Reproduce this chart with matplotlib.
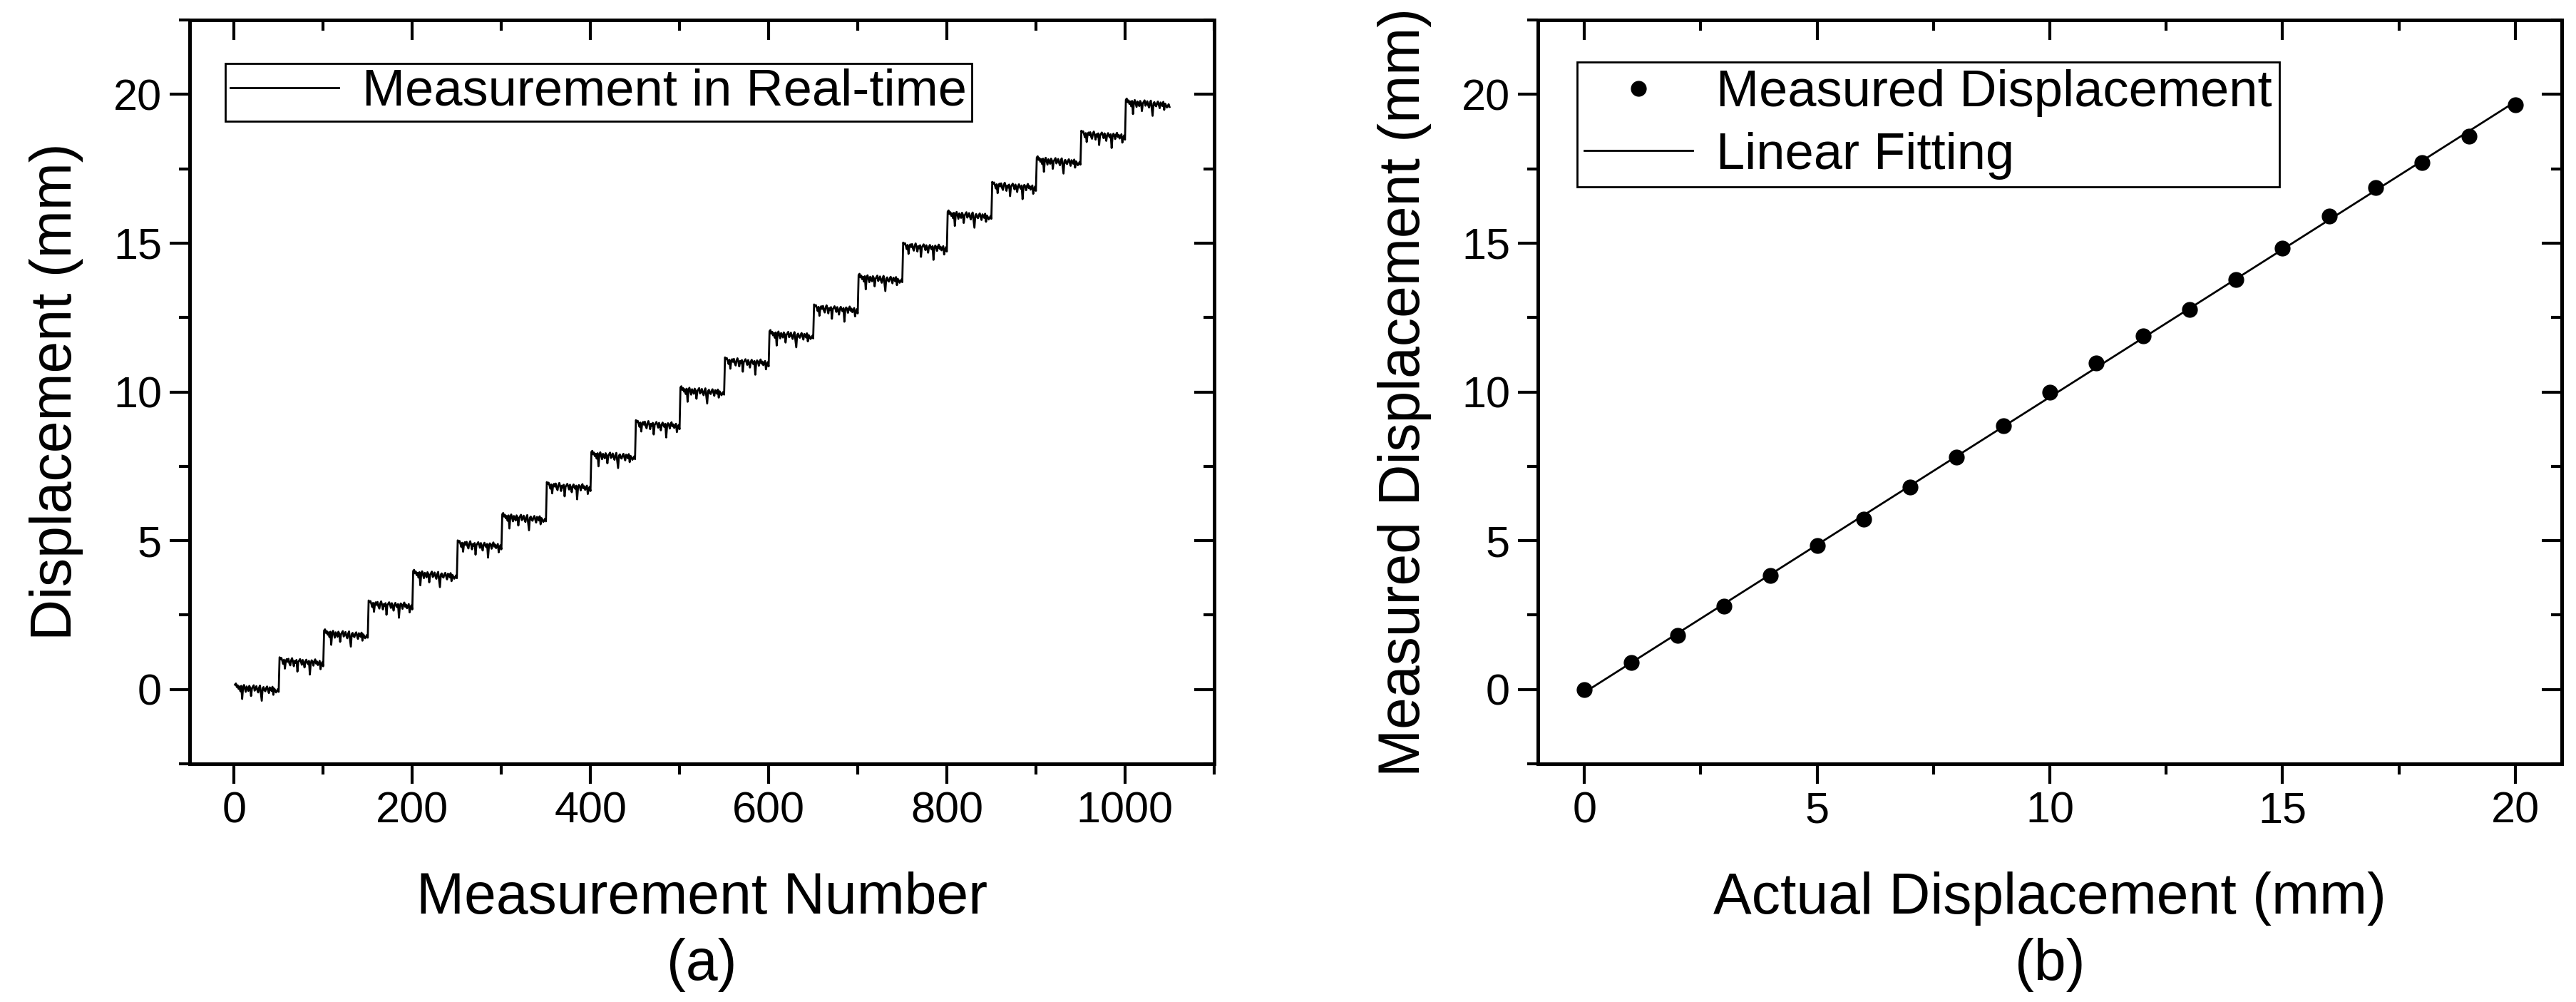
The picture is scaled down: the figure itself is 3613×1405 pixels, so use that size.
import numpy as np
from matplotlib import pyplot as plt
from matplotlib.ticker import MultipleLocator

plt.rcParams['font.family'] = ['Liberation Sans', 'DejaVu Sans']

# (b) measured displacement at each actual position (mm)
actual = [0, 1, 2, 3, 4, 5, 6, 7, 8, 9, 10, 11, 12, 13, 14, 15, 16, 17, 18, 19, 20]
measured = [0.0, 0.90, 1.82, 2.81, 3.82, 4.83, 5.73, 6.79, 7.82, 8.87, 9.99,
            10.98, 11.88, 12.76, 13.77, 14.84, 15.90, 16.88, 17.72, 18.60, 19.66]

# (a) real-time trace: 50 readings per position, wiggle
samples_per_step = 50
wiggle_a = [0.16, 0.20, 0.08, 0.14, 0.02, 0.10, -0.06, 0.12, -0.32, 0.05,
            0.15, 0.03, -0.08, 0.10, 0.04, -0.05, 0.12, 0.06, -0.22, 0.03,
            0.09, 0.14, -0.04, 0.02, 0.11, -0.02, -0.10, 0.06, 0.13, -0.12,
            -0.38, 0.04, 0.08, -0.03, -0.06, 0.05, 0.10, -0.02, -0.12, 0.07,
            0.02, -0.05, 0.09, -0.18, 0.03, -0.02, -0.10, -0.06, 0.01, -0.08]
wiggle_b = [0.18, 0.12, 0.16, 0.07, -0.04, 0.10, -0.20, 0.05, 0.12, 0.03,
            0.13, -0.02, -0.09, 0.08, 0.15, 0.04, -0.12, 0.06, -0.01, 0.09,
            -0.30, 0.02, 0.07, 0.12, 0.03, -0.07, 0.09, -0.01, -0.16, 0.04,
            0.10, 0.00, -0.05, 0.06, -0.40, -0.02, 0.08, 0.03, -0.10, 0.05,
            0.11, -0.03, 0.04, -0.08, -0.01, 0.06, -0.22, -0.05, 0.02, -0.12]

trace = []
for i, level in enumerate(measured):
    w = wiggle_a if i % 2 == 0 else wiggle_b
    trace.extend(level + np.array(w))
trace = np.array(trace)
meas_no = np.arange(1, len(trace) + 1)

fit = np.polyfit(actual, measured, 1)
fit_x = np.array([actual[0], actual[-1]])
fit_y = np.polyval(fit, fit_x)

fig = plt.figure(figsize=(36.13, 14.05), dpi=100)
ax1 = fig.add_axes([0.0736, 0.2377, 0.3977, 0.7423])
ax2 = fig.add_axes([0.597, 0.2377, 0.3975, 0.7423])

tick_fs = 44
label_fs = 58
legend_fs = 52

ax1.plot(meas_no, trace, color='black', lw=2.0, label='Measurement in Real-time')
ax1.set_xlim(-50, 1100)
ax1.set_ylim(-2.5, 22.5)
ax1.xaxis.set_major_locator(MultipleLocator(200))
ax1.xaxis.set_minor_locator(MultipleLocator(100))
ax1.set_xlabel('Measurement Number', fontsize=label_fs, labelpad=40)
ax1.set_ylabel('Displacement (mm)', fontsize=label_fs, labelpad=30)
ax1.legend(loc='upper left', bbox_to_anchor=(0.035, 0.942), borderaxespad=0,
           fontsize=legend_fs, handlelength=2.1, handletextpad=0.45,
           fancybox=False, edgecolor='black', framealpha=1,
           borderpad=0.1).get_frame().set_linewidth(2)

ax2.plot(actual, measured, 'o', color='black', ms=15, label='Measured Displacement')
ax2.plot(fit_x, fit_y, color='black', lw=2.0, label='Linear Fitting')
ax2.set_xlim(-1, 21)
ax2.set_ylim(-2.5, 22.5)
ax2.xaxis.set_major_locator(MultipleLocator(5))
ax2.xaxis.set_minor_locator(MultipleLocator(2.5))
ax2.set_xlabel('Actual Displacement (mm)', fontsize=label_fs, labelpad=40)
ax2.set_ylabel('Measured Displacement (mm)', fontsize=label_fs, labelpad=30)
ax2.legend(loc='upper left', bbox_to_anchor=(0.038, 0.944), borderaxespad=0,
           fontsize=legend_fs, handlelength=2.1, handletextpad=0.45, numpoints=1,
           fancybox=False, edgecolor='black', framealpha=1,
           borderpad=0.15, labelspacing=0.28).get_frame().set_linewidth(2)

for ax, tag in ((ax1, '(a)'), (ax2, '(b)')):
    ax.yaxis.set_major_locator(MultipleLocator(5))
    ax.yaxis.set_minor_locator(MultipleLocator(2.5))
    for s in ax.spines.values():
        s.set_linewidth(3.6)
    ax.tick_params(which='both', direction='out', width=3, labelsize=tick_fs, pad=8)
    ax.tick_params(which='major', length=20)
    ax.tick_params(which='minor', length=11)
    # mirrored ticks pointing inward on top/right
    sec_x = ax.secondary_xaxis('top')
    sec_x.xaxis.set_major_locator(ax.xaxis.get_major_locator())
    sec_x.xaxis.set_minor_locator(ax.xaxis.get_minor_locator())
    sec_x.tick_params(which='both', direction='in', width=3, labeltop=False)
    sec_x.tick_params(which='major', length=20)
    sec_x.tick_params(which='minor', length=11)
    sec_x.spines['top'].set_linewidth(3.6)
    sec_y = ax.secondary_yaxis('right')
    sec_y.yaxis.set_major_locator(ax.yaxis.get_major_locator())
    sec_y.yaxis.set_minor_locator(ax.yaxis.get_minor_locator())
    sec_y.tick_params(which='both', direction='in', width=3, labelright=False)
    sec_y.tick_params(which='major', length=20)
    sec_y.tick_params(which='minor', length=11)
    sec_y.spines['right'].set_linewidth(3.6)
    ax.text(0.5, -0.27, tag, transform=ax.transAxes, ha='center', va='center',
            fontsize=label_fs)

fig.savefig('out.png', dpi=100)
